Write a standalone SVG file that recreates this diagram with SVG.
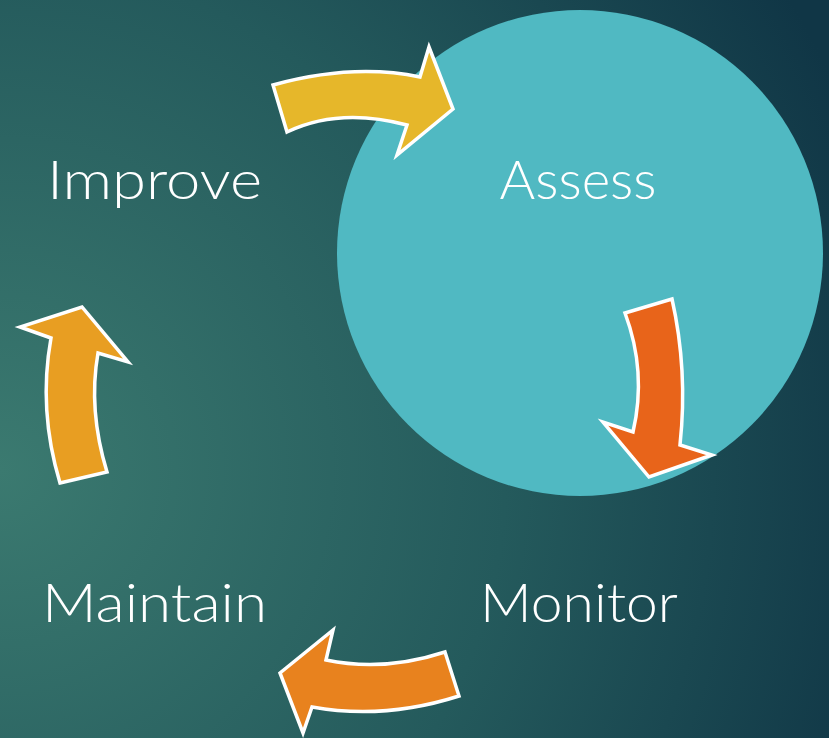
<svg xmlns="http://www.w3.org/2000/svg" width="829" height="738" viewBox="0 0 829 738">
  <defs>
    <radialGradient id="bg" cx="0" cy="470" r="920" gradientUnits="userSpaceOnUse">
      <stop offset="0" stop-color="#3B7A70"/>
      <stop offset="0.55" stop-color="#245A5C"/>
      <stop offset="1" stop-color="#103646"/>
    </radialGradient>
    <style>
      .label { font-family: "Lato", "Liberation Sans", sans-serif; font-weight: 300; font-size: 54px; fill: #FFFFFF; }
      .arrow { stroke: #FFFFFF; stroke-width: 3.5; stroke-linejoin: miter; }
    </style>
  </defs>

  <!-- backdrop -->
  <rect x="0" y="0" width="829" height="738" fill="url(#bg)"/>

  <!-- stage nodes -->
  <g id="assess">
    <circle cx="580" cy="253" r="243" fill="#50B9C2"/>
    <text class="label" x="578" y="199" text-anchor="middle" textLength="157" lengthAdjust="spacingAndGlyphs">Assess</text>
  </g>
  <g id="monitor">
    <text class="label" x="480" y="622" textLength="198" lengthAdjust="spacingAndGlyphs">Monitor</text>
  </g>
  <g id="maintain">
    <text class="label" x="42" y="622" textLength="225" lengthAdjust="spacingAndGlyphs">Maintain</text>
  </g>
  <g id="improve">
    <text class="label" x="47" y="199" textLength="215" lengthAdjust="spacingAndGlyphs">Improve</text>
  </g>

  <!-- cycle arrows -->
  <g id="connectors">
    <path class="arrow" fill="#E6B72A" d="M273,85 Q353,63 420,77 L429,47 L453,109 L397,155 L407,125 Q339,107 287,132 Z"/>
    <path class="arrow" fill="#E8641A" d="M625,313 L672,299 Q688,370 680,445 L712,455 L649,477 L603,422 L633,432 Q647,372 625,313 Z"/>
    <path class="arrow" fill="#E8821E" d="M445,652 L459,696 Q384,720 312,707 L303,733 L280,673 L333,630 L326,660 Q384,672 445,652 Z"/>
    <path class="arrow" fill="#E89E22" d="M60,483 L107,472 Q88,410 98,353 L128,362 L82,307 L20,327 L51,338 Q38,410 60,483 Z"/>
  </g>
</svg>
